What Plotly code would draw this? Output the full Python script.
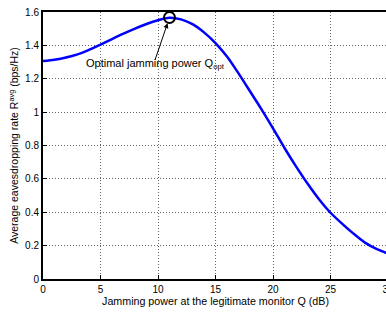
import plotly.graph_objects as go

# Data
q_db = [0, 1, 2, 3, 4, 5, 6, 7, 8, 9, 10, 11, 12, 13, 14, 15, 16, 17, 18, 19, 20,
        21, 22, 23, 24, 25, 26, 27, 28, 29, 30]
rate = [1.306, 1.314, 1.327, 1.346, 1.373, 1.405, 1.438, 1.470, 1.500, 1.528, 1.551,
        1.566, 1.556, 1.527, 1.478, 1.414, 1.333, 1.232, 1.125, 1.017, 0.903,
        0.785, 0.675, 0.572, 0.478, 0.397, 0.332, 0.272, 0.218, 0.180, 0.152]
q_opt = [11.0]
rate_opt = [1.567]

x_ticks = [0, 5, 10, 15, 20, 25, 30]
y_ticks = [0, 0.2, 0.4, 0.6, 0.8, 1, 1.2, 1.4, 1.6]
y_tick_labels = ["0", "0.2", "0.4", "0.6", "0.8", "1", "1.2", "1.4", "1.6"]

FONT = "Liberation Sans, Arial, Helvetica, sans-serif"

fig = go.Figure()
fig.add_trace(go.Scatter(x=q_db, y=rate, mode="lines",
                         line=dict(color="#0000FF", width=2.5, shape="spline", smoothing=0.8),
                         showlegend=False, hoverinfo="skip"))
fig.add_trace(go.Scatter(x=q_opt, y=rate_opt, mode="markers",
                         marker=dict(symbol="circle-open", size=11, color="black",
                                     line=dict(width=2, color="black")),
                         showlegend=False, hoverinfo="skip"))

fig.update_layout(annotations=[
    dict(x=q_opt[0], y=rate_opt[0], xref="x", yref="y",
         ax=-15, ay=44, text="", showarrow=True, arrowhead=2,
         arrowsize=1, arrowwidth=1, arrowcolor="black", standoff=6),
    dict(x=9.8, y=1.288, xref="x", yref="y",
         text="Optimal jamming power Q<sub>opt</sub>",
         showarrow=False, font=dict(family=FONT, size=11, color="black")),
])

axis_common = dict(showline=True, linewidth=2, linecolor="black", mirror=True,
                   ticks="inside", ticklen=4, tickwidth=1, tickcolor="black",
                   showgrid=True, gridcolor="#666666", gridwidth=1, griddash="1px,2px",
                   zeroline=False, tickfont=dict(family=FONT, size=10, color="black"))

fig.update_xaxes(range=[0, 30], tickvals=x_ticks,
                 title=dict(text="Jamming power at the legitimate monitor Q (dB)",
                            font=dict(family=FONT, size=10.7, color="black"), standoff=3),
                 **axis_common)
fig.update_yaxes(range=[0, 1.6], tickvals=y_ticks, ticktext=y_tick_labels,
                 title=dict(text="Average eavesdropping rate R<sup>avg</sup> (bps/Hz)",
                            font=dict(family=FONT, size=10.5, color="black"), standoff=4),
                 **axis_common)

fig.update_layout(width=400, height=314, autosize=False,
                  margin=dict(l=43, r=12, t=6, b=35),
                  paper_bgcolor="white", plot_bgcolor="white",
                  font=dict(family=FONT, size=10, color="black"))

fig.write_html("out.html", config={"displayModeBar": False},
               post_script="document.body.style.margin='0';document.body.style.overflow='hidden';document.documentElement.style.overflow='hidden';")
